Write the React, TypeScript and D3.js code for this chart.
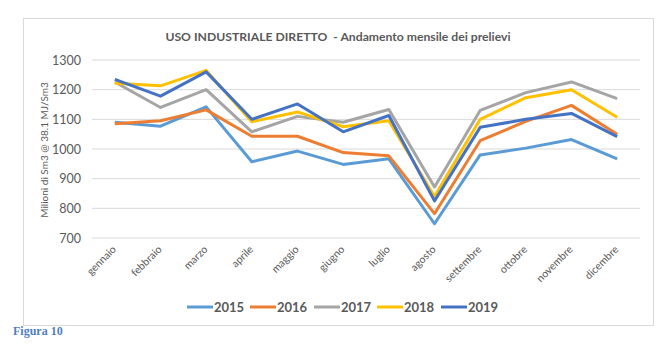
import { useRef, useEffect } from "react";
import * as d3 from "d3";

const months = ["gennaio", "febbraio", "marzo", "aprile", "maggio", "giugno", "luglio", "agosto", "settembre", "ottobre", "novembre", "dicembre"];
const years = ["2015", "2016", "2017", "2018", "2019"];
const colors = ["#5B9BD5", "#ED7D31", "#A5A5A5", "#FFC000", "#4472C4"];
const v2015 = [1090, 1077, 1142, 957, 993, 948, 967, 748, 980, 1003, 1032, 967];
const v2016 = [1085, 1095, 1132, 1043, 1043, 988, 977, 782, 1028, 1093, 1147, 1050];
const v2017 = [1226, 1140, 1200, 1058, 1110, 1090, 1133, 872, 1130, 1190, 1226, 1170];
const v2018 = [1222, 1213, 1265, 1092, 1125, 1075, 1095, 840, 1100, 1173, 1200, 1107];
const v2019 = [1235, 1178, 1260, 1100, 1152, 1058, 1113, 825, 1073, 1100, 1120, 1042];
const yTicks = [700, 800, 900, 1000, 1100, 1200, 1300];

function App() {
  const svgRef = useRef<SVGSVGElement>(null);

  useEffect(() => {
    const svg = d3.select(svgRef.current);
    svg.selectAll("*").remove();
    const font = "Lato, sans-serif";
    const series = [v2015, v2016, v2017, v2018, v2019];

    // frame
    svg.append("rect")
      .attr("x", 23.5).attr("y", 18.5)
      .attr("width", 630).attr("height", 307)
      .attr("fill", "white").attr("stroke", "#d9d9d9");

    const x = d3.scalePoint().domain(months).range([92, 640]).padding(0.5);
    const y = d3.scaleLinear().domain([700, 1300]).range([238, 60]);

    // grid
    svg.append("g").selectAll("line").data(yTicks).join("line")
      .attr("x1", 92).attr("x2", 640)
      .attr("y1", d => y(d)).attr("y2", d => y(d))
      .attr("stroke", "#d9d9d9").attr("stroke-width", 1);

    svg.append("g").selectAll("text").data(yTicks).join("text")
      .attr("x", 81).attr("y", d => y(d) + 4.5)
      .attr("text-anchor", "end")
      .attr("font-family", font).attr("font-size", 12.5)
      .attr("fill", "#595959")
      .text(d => d);

    svg.append("g").selectAll("text").data(months).join("text")
      .attr("transform", d => `translate(${x(d)! + 2},${250}) rotate(-45)`)
      .attr("text-anchor", "end")
      .attr("font-family", font).attr("font-size", 10.5)
      .attr("fill", "#595959")
      .text(d => d);

    // y label
    svg.append("text")
      .attr("transform", `translate(48,150) rotate(-90)`)
      .attr("text-anchor", "middle")
      .attr("font-family", font).attr("font-size", 10)
      .attr("fill", "#595959")
      .text("Milioni di Sm3 @ 38.1 MJ/Sm3");

    // title
    svg.append("text")
      .attr("x", 338).attr("y", 41)
      .attr("text-anchor", "middle")
      .attr("font-family", font).attr("font-size", 12.2).attr("font-weight", "bold")
      .attr("fill", "#595959")
      .style("white-space", "pre")
      .text("USO INDUSTRIALE DIRETTO  - Andamento mensile dei prelievi");

    const line = d3.line<number>()
      .x((d, i) => x(months[i])!)
      .y(d => y(d));

    svg.append("g").selectAll("path").data(series).join("path")
      .attr("d", d => line(d))
      .attr("fill", "none")
      .attr("stroke", (d, i) => colors[i])
      .attr("stroke-width", 3)
      .attr("stroke-linejoin", "round");

    // legend
    const legendX = [187, 250, 314, 377, 441];
    const lg = svg.append("g").selectAll("g").data(years).join("g")
      .attr("transform", (d, i) => `translate(${legendX[i]},307)`);
    lg.append("line")
      .attr("x1", 0).attr("x2", 26)
      .attr("stroke", (d, i) => colors[i]).attr("stroke-width", 3);
    lg.append("text")
      .attr("x", 27).attr("y", 4.5)
      .attr("font-family", font).attr("font-size", 13).attr("font-weight", "bold")
      .attr("fill", "#595959")
      .text(d => d);

    svg.append("text")
      .attr("x", 13).attr("y", 335)
      .attr("font-family", "Liberation Serif, serif").attr("font-size", 12).attr("font-weight", "bold")
      .attr("fill", "#4F7FBF")
      .text("Figura 10");
  }, []);

  return (
    <svg ref={svgRef} width={668} height={354}
      style={{ position: "absolute", left: 0, top: 0, background: "white" }} />
  );
}

export default App;
